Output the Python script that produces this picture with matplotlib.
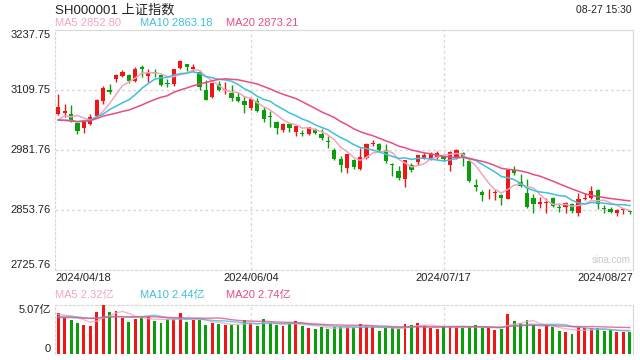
import numpy as np
import matplotlib
matplotlib.use('Agg')
import matplotlib.pyplot as plt

plt.rcParams['font.family'] = ['Liberation Sans', 'Noto Sans CJK SC']

# 上证指数 日K 2024/04/18 - 2024/08/27
open_ = [3059.3, 3060.0, 3057.9, 3039.4, 3029.4, 3038.0, 3054.3, 3086.3, 3109.1, 3133.3,
         3139.0, 3141.0, 3129.0, 3158.5, 3139.0, 3147.0, 3141.0, 3125.4, 3123.3, 3157.4,
         3164.5, 3155.0, 3148.2, 3109.1, 3094.9, 3121.9, 3109.0, 3103.4, 3094.9, 3086.4,
         3071.4, 3086.3, 3067.9, 3053.0, 3041.6, 3023.8, 3036.6, 3020.2, 3018.0, 3016.7,
         3027.3, 3015.3, 3000.0, 2982.6, 2962.9, 2943.0, 2960.8, 2941.6, 2965.0, 2994.0,
         2994.9, 2982.8, 2952.0, 2938.0, 2920.2, 2948.7, 2957.2, 2963.6, 2962.9, 2964.3,
         2968.6, 2950.0, 2964.3, 2975.7, 2959.3, 2907.4, 2891.8, 2889.0, 2889.0, 2885.7,
         2877.2, 2939.0, 2912.7, 2890.7, 2878.6, 2865.8, 2868.0, 2878.6, 2860.0, 2860.8,
         2865.8, 2846.6, 2877.0, 2878.6, 2896.4, 2858.0, 2855.1, 2846.6, 2853.0, 2850.0]
high = [3102.0, 3080.0, 3078.5, 3040.0, 3046.0, 3059.3, 3091.3, 3117.6, 3123.3, 3143.2,
        3151.7, 3144.6, 3158.0, 3162.4, 3155.3, 3153.9, 3143.0, 3134.0, 3155.5, 3173.1,
        3166.0, 3166.0, 3153.2, 3130.4, 3125.5, 3129.0, 3126.9, 3119.8, 3105.6, 3096.3,
        3092.8, 3092.8, 3073.6, 3064.3, 3043.0, 3039.0, 3039.4, 3034.0, 3025.2, 3031.0,
        3029.5, 3027.3, 3011.0, 2986.8, 2970.0, 2974.0, 2962.9, 2985.6, 2996.0, 3004.1,
        2996.3, 2993.5, 2954.4, 2947.3, 2961.0, 2954.4, 2971.0, 2975.7, 2977.1, 2979.0,
        2971.4, 2979.0, 2984.2, 2978.5, 2962.9, 2920.2, 2896.8, 2897.8, 2899.0, 2887.0,
        2940.5, 2947.6, 2930.5, 2919.1, 2887.9, 2882.2, 2878.6, 2882.2, 2867.9, 2871.5,
        2867.9, 2889.3, 2889.3, 2904.9, 2897.8, 2864.4, 2859.4, 2856.0, 2858.0, 2852.3]
low = [3055.7, 3052.0, 3041.5, 3016.6, 3018.8, 3036.0, 3052.2, 3080.6, 3102.0, 3126.9,
       3137.5, 3125.4, 3126.9, 3137.5, 3126.9, 3137.5, 3117.6, 3116.0, 3117.6, 3155.3,
       3150.3, 3148.2, 3110.5, 3087.8, 3093.5, 3107.7, 3102.0, 3086.3, 3084.2, 3060.8,
       3066.4, 3062.9, 3041.6, 3030.9, 3015.3, 3020.2, 3020.2, 3011.0, 3011.0, 3013.1,
       3015.3, 3002.5, 2986.8, 2959.8, 2934.5, 2933.0, 2941.6, 2940.1, 2962.9, 2989.9,
       2980.0, 2954.4, 2925.9, 2918.8, 2902.5, 2934.5, 2948.7, 2962.9, 2960.8, 2962.9,
       2957.9, 2937.3, 2962.9, 2947.3, 2914.5, 2893.9, 2874.0, 2876.5, 2875.0, 2864.4,
       2876.5, 2928.4, 2903.5, 2859.0, 2846.6, 2857.3, 2846.6, 2860.0, 2850.2, 2846.6,
       2848.0, 2840.9, 2875.0, 2877.2, 2855.1, 2848.0, 2846.6, 2840.9, 2845.2, 2845.2]
close = [3074.22, 3065.26, 3044.60, 3021.98, 3044.82, 3052.90, 3088.64, 3113.04, 3104.82, 3140.72,
         3147.74, 3128.48, 3154.32, 3154.55, 3148.02, 3145.77, 3119.90, 3122.40, 3154.03, 3171.15,
         3157.97, 3158.54, 3116.39, 3088.87, 3124.04, 3109.57, 3111.02, 3091.68, 3086.81, 3078.49,
         3091.20, 3065.40, 3048.79, 3051.28, 3028.05, 3037.47, 3028.92, 3032.63, 3015.89, 3030.25,
         3018.05, 3007.88, 2998.14, 2963.10, 2950.00, 2972.53, 2945.85, 2967.40, 2994.73, 2997.01,
         2982.38, 2957.57, 2949.93, 2922.45, 2959.37, 2939.36, 2970.39, 2971.30, 2974.01, 2976.30,
         2962.56, 2977.13, 2982.31, 2964.22, 2915.37, 2901.95, 2886.43, 2890.90, 2891.85, 2879.30,
         2938.75, 2932.39, 2905.34, 2860.70, 2867.28, 2869.90, 2869.83, 2862.19, 2858.20, 2867.95,
         2850.65, 2877.36, 2879.43, 2893.67, 2866.66, 2856.58, 2848.79, 2854.37, 2855.52, 2848.73]
# 成交量（亿）
volume = [4.21, 3.76, 3.52, 3.24, 3.00, 2.90, 4.38, 5.07, 4.38, 4.45,
          3.76, 3.35, 3.59, 3.76, 3.86, 3.45, 3.24, 3.59, 3.59, 4.28,
          3.35, 3.52, 3.52, 3.00, 3.24, 3.10, 2.97, 3.00, 2.97, 3.52,
          3.17, 2.90, 3.62, 3.17, 3.00, 2.90, 3.07, 3.41, 2.90, 2.66,
          2.59, 2.83, 2.55, 2.76, 2.76, 2.76, 2.76, 3.10, 2.90, 2.76,
          2.38, 2.72, 2.72, 2.59, 3.10, 3.00, 3.17, 3.00, 2.72, 2.59,
          2.83, 2.83, 2.76, 2.72, 2.76, 3.00, 2.72, 2.72, 2.48, 2.59,
          4.18, 3.41, 3.17, 3.55, 2.98, 2.59, 2.95, 2.83, 2.38, 2.31,
          2.10, 2.75, 2.65, 2.65, 2.65, 2.35, 2.45, 2.25, 2.25, 2.30]
# 区间之前的收盘价/成交量，仅用于均线起点
prev_close = [3079.69, 3077.11, 3048.03, 3026.31, 3031.48, 2993.14, 3010.66, 3041.17, 3077.38, 3074.96,
              3069.30, 3047.05, 3048.54, 3027.34, 3034.25, 3019.47, 3057.38, 3007.07, 3071.38]
prev_volume = [3.70, 3.50, 3.90, 3.60, 3.40, 3.80, 3.60, 3.70, 3.50, 3.90,
               3.60, 3.50, 3.80, 3.70, 3.60, 4.10, 4.00, 3.90, 4.30]

date_ticks = [0, 30, 60, 89]
date_labels = ['2024/04/18', '2024/06/04', '2024/07/17', '2024/08/27']
price_ticks = [3237.75, 3109.75, 2981.76, 2853.76, 2725.76]

RED = '#f01616'
GREEN = '#0b9e0b'
C_MA5 = '#f6a3c0'
C_MA10 = '#3cc0df'
C_MA20 = '#ea4c80'
GRID = '#d8d8d8'
TXT = '#222222'


def moving_avg(prev, vals, k):
    full = np.concatenate([prev, vals])
    out = np.convolve(full, np.ones(k) / k, mode='valid')
    return out[-len(vals):]


open_ = np.array(open_)
high = np.array(high)
low = np.array(low)
close = np.array(close)
volume = np.array(volume)
n = len(close)
x = np.arange(n)
colors = np.where(close >= open_, RED, GREEN)

ma_p = {k: moving_avg(prev_close, close, k) for k in (5, 10, 20)}
ma_v = {k: moving_avg(prev_volume, volume, k) for k in (5, 10, 20)}

fig = plt.figure(figsize=(6.4, 3.6), dpi=100)
W, H = 640, 360


def fx(px):
    return px / W


def fy(py):
    return 1 - py / H


ax = fig.add_axes([fx(55), fy(270), fx(578), 240 / H])
axv = fig.add_axes([fx(55), fy(354), fx(578), 49 / H])

# K线
ax.vlines(x, low, high, colors=colors, lw=1, zorder=3)
body_bottom = np.minimum(open_, close)
body_h = np.maximum(np.abs(close - open_), 2.0)
ax.bar(x, body_h, 0.66, bottom=body_bottom, color=colors, lw=0, zorder=3)
ax.plot(x, ma_p[5], color=C_MA5, lw=1.1, zorder=4)
ax.plot(x, ma_p[10], color=C_MA10, lw=1.1, zorder=4)
ax.plot(x, ma_p[20], color=C_MA20, lw=1.1, zorder=4)

ax.set_xlim(-0.5, n - 0.5)
ax.set_ylim(price_ticks[-1], price_ticks[0])
ax.set_xticks([])
ax.set_yticks([])
for y in price_ticks[1:-1]:
    ax.axhline(y, color=GRID, lw=1, ls=(0, (2, 2)), zorder=1)
for t in date_ticks[1:-1]:
    ax.axvline(t, color=GRID, lw=1, ls=(0, (2, 2)), zorder=1)
for s in ax.spines.values():
    s.set_color(GRID)
ax.spines['left'].set_linestyle((0, (2, 2)))
ax.spines['bottom'].set_linestyle((0, (2, 2)))

tr = ax.get_yaxis_transform()
for i, y in enumerate(price_ticks):
    va = 'top' if i == 0 else ('bottom' if i == len(price_ticks) - 1 else 'center')
    ax.text(-0.007, y, f'{y:.2f}', transform=tr, ha='right', va=va, fontsize=8, color=TXT)

ax.text(0.995, 0.02, 'sina.com', transform=ax.transAxes, ha='right', va='bottom',
        fontsize=7, color='#c8c8c8')

# 成交量
axv.bar(x, volume, 0.45, color=colors, lw=0, zorder=3)
axv.plot(x, ma_v[5], color=C_MA5, lw=1.0, alpha=0.8, zorder=4)
axv.plot(x, ma_v[10], color=C_MA10, lw=1.0, alpha=0.8, zorder=4)
axv.plot(x, ma_v[20], color=C_MA20, lw=1.0, alpha=0.8, zorder=4)
axv.set_xlim(-0.5, n - 0.5)
axv.set_ylim(0, volume.max())
axv.set_xticks([])
axv.set_yticks([])
for t in date_ticks[1:-1]:
    axv.axvline(t, color=GRID, lw=1, ls=(0, (2, 2)), zorder=1)
for s in axv.spines.values():
    s.set_color(GRID)
axv.spines['top'].set_linestyle((0, (2, 2)))
axv.spines['left'].set_linestyle((0, (2, 2)))
axv.spines['bottom'].set_visible(False)
trv = axv.get_yaxis_transform()
axv.text(-0.007, volume.max(), f'{volume.max():.2f}亿', transform=trv, ha='right', va='top',
         fontsize=8, color=TXT)
axv.text(-0.007, 0, '0', transform=trv, ha='right', va='bottom', fontsize=8, color=TXT)

# 日期
trx = ax.get_xaxis_transform()
aligns = ['left', 'center', 'center', 'right']
for t, lab, ha in zip(date_ticks, date_labels, aligns):
    xx = t - 0.5 if ha == 'left' else (t + 0.5 if ha == 'right' else t)
    ax.text(xx, -0.012, lab, transform=trx, ha=ha, va='top', fontsize=8, color=TXT)

# 标题与图例
fig.text(fx(55), fy(10), 'SH000001 上证指数', ha='left', va='center', fontsize=9.5, color=TXT)
fig.text(fx(632), fy(10), '08-27 15:30', ha='right', va='center', fontsize=7.5, color=TXT)
leg_x = [55, 140, 226]
for xx, k, c in zip(leg_x, (5, 10, 20), (C_MA5, C_MA10, C_MA20)):
    fig.text(fx(xx), fy(23), f'MA{k} {ma_p[k][-1]:.2f}', ha='left', va='center', fontsize=8, color=c)
    fig.text(fx(xx), fy(295), f'MA{k} {ma_v[k][-1]:.2f}亿', ha='left', va='center', fontsize=8, color=c)

fig.savefig('out.png', dpi=100)
